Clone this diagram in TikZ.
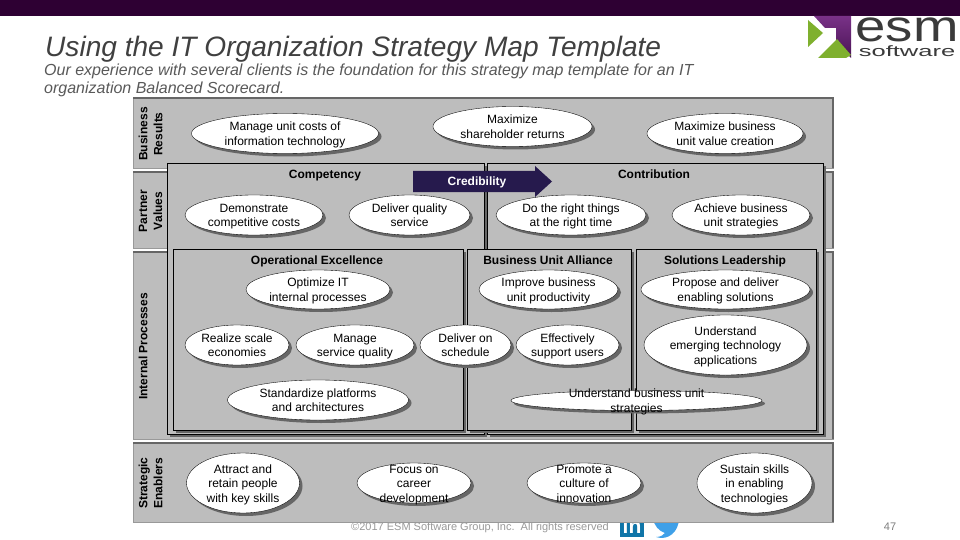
\documentclass[tikz,border=0pt]{standalone}
\usepackage{fontspec}
\setmainfont{Liberation Sans}
\usetikzlibrary{shapes.geometric,shadows,shapes.arrows}
\definecolor{barcol}{HTML}{2E0033}
\definecolor{bandcol}{HTML}{BDBDBD}
\definecolor{bandedge}{HTML}{666666}
\definecolor{bandlite}{HTML}{999999}
\definecolor{arrowcol}{HTML}{261A4D}
\definecolor{titlecol}{HTML}{404040}
\definecolor{subcol}{HTML}{595959}
\definecolor{footcol}{HTML}{999999}
\definecolor{numcol}{HTML}{7F7F7F}
\definecolor{logotext}{HTML}{3A3A3A}
\definecolor{logogreen}{HTML}{7FB02E}
\definecolor{logopurple}{HTML}{6A1B7A}
\definecolor{liblue}{HTML}{0F75A8}
\definecolor{twblue}{HTML}{3FA0E8}
\tikzset{
  x=1pt,y=-1pt,
  goal/.style={ellipse,draw=black,line width=.35pt,fill=white,inner sep=0pt,
    general shadow={fill=bandedge,shadow xshift=3pt,shadow yshift=-3pt}},
  goaltext/.style={font=\fontsize{12}{14.5}\selectfont,align=center,inner sep=0pt,text=black},
  panel/.style={draw=black,line width=.8pt,fill=bandcol,
    general shadow={fill=bandedge,shadow xshift=3pt,shadow yshift=-3pt}},
  band/.style={draw=bandlite,line width=.8pt,fill=bandcol},
  bandtop/.style={draw=bandedge,line width=2pt},
  head/.style={font=\fontsize{12}{14}\bfseries\selectfont,align=center,inner sep=0pt,text=black,text height=9pt,text depth=3pt},
  bandlabel/.style={font=\fontsize{12}{15}\bfseries\selectfont,align=center,inner sep=0pt,rotate=90,text=black},
}
\newcommand{\goalnode}[6]{\node[goal,minimum width=#4pt,minimum height=#5pt,label={[goaltext]center:{\rule{0pt}{12pt}#6\rule[-3pt]{0pt}{3pt}}}] (#1) at (#2,#3) {};}
\begin{document}
\begin{tikzpicture}
\useasboundingbox (0,0) rectangle (960,540);
\fill[white] (0,0) rectangle (960,540);
% footer and icons (partly covered by the bands)
\fill[liblue] (620,516) rectangle (644,537);
\node[font=\fontsize{21}{21}\bfseries\selectfont,text=white,inner sep=0pt] (inlogo) at (632,526) {in};
\fill[twblue] (653,518) -- (679,518) .. controls (679,532) and (668,541) .. (656,537) .. controls (661,537) and (663,535) .. (665,533) .. controls (659,531) and (654,526) .. cycle;
\node[font=\fontsize{11}{13}\selectfont,text=footcol,inner sep=0pt] (footer) at (480,528) {©2017 ESM Software Group, Inc.\ \ All rights reserved};
\node[font=\fontsize{11}{13}\selectfont,text=numcol,inner sep=0pt] (pagenum) at (890,527) {47};
% top bar
\fill[barcol] (0,0) rectangle (960,16);
% title
\node[anchor=west,font=\fontsize{28.1}{30}\itshape\selectfont,text=titlecol,inner sep=0pt] (title) at (45,49) {Using the IT Organization Strategy Map Template};
\node[anchor=north west,align=left,font=\fontsize{16}{18}\itshape\selectfont,text=subcol,inner sep=0pt] (subtitle) at (44,64) {Our experience with several clients is the foundation for this strategy map template for an IT\\organization Balanced Scorecard.};
% logo
\shade[top color=logopurple!90!white,bottom color=logopurple!70!black] (814,16) -- (851,16) -- (851,58) -- (836,42) -- (836,28) -- (825,28) -- cycle;
\fill[logogreen] (808,20) -- (823,33) -- (808,47) -- cycle;
\fill[logogreen] (818,58) -- (837,39) -- (851,55) -- (846,58) -- cycle;
\node[anchor=base,font=\fontsize{44}{44}\selectfont,text=logotext,inner sep=0pt,xscale=1.24] (logoesm) at (907,42) {esm};
\node[anchor=base,font=\fontsize{15}{18}\selectfont,text=logotext,inner sep=0pt,xscale=1.7] (logosw) at (907,56.5) {software};
% bands
\draw[band] (133,98) rectangle (833,168);
\draw[band] (133,172) rectangle (833,248);
\draw[band] (133,252) rectangle (833,439);
\draw[band] (133,443) rectangle (833,522);
\draw[bandtop] (133,98) -- (833,98) -- (833,168);
\draw[bandtop] (133,172) -- (167,172) (826,172) -- (833,172) -- (833,248);
\draw[bandtop] (133,252) -- (167,252) (826,252) -- (833,252) -- (833,439);
\draw[bandtop] (133,443) -- (833,443) -- (833,522);
\node[bandlabel] (lblbiz) at (150.5,134) {Business\\Results};
\node[bandlabel] (lblpartner) at (150.5,211) {Partner\\Values};
\node[bandlabel] (lblint) at (143,346.5) {Internal Processes};
\node[bandlabel] (lblstrat) at (150.5,483) {Strategic\\Enablers};
% panels
\draw[panel] (167,163) rectangle (484,434);
\draw[panel] (487,163) rectangle (823,434);
\draw[panel] (173,249) rectangle (463,430);
\draw[panel] (467,249) rectangle (631,430);
\draw[panel] (636,249) rectangle (816,430);
\node[head] (hcomp) at (325,175.5) {Competency};
\node[head] (hcont) at (654,175.5) {Contribution};
\node[head] (hop) at (317,261.5) {Operational Excellence};
\node[head] (hbua) at (548,261.5) {Business Unit Alliance};
\node[head] (hsl) at (725,261.5) {Solutions Leadership};
% credibility arrow
\fill[arrowcol] (413,171) -- (535,171) -- (535,166) -- (552,181.5) -- (535,197) -- (535,192) -- (413,192) -- cycle;
\node[font=\fontsize{12}{14}\bfseries\selectfont,text=white,inner sep=0pt,text height=9pt,text depth=3pt] (cred) at (477,182.5) {Credibility};
% goals
\goalnode{a1}{285}{133.5}{187}{40}{Manage unit costs of\\information technology}
\goalnode{a2}{512.5}{126.5}{159}{40}{Maximize\\shareholder returns}
\goalnode{a3}{725}{133.5}{156}{40}{Maximize business\\unit value creation}
\goalnode{b1}{254}{215}{138}{40}{Demonstrate\\competitive costs}
\goalnode{b2}{409.5}{215}{121}{40}{Deliver quality\\service}
\goalnode{b3}{571}{215}{150}{40}{Do the right things\\at the right time}
\goalnode{b4}{741}{215}{138}{40}{Achieve business\\unit strategies}
\goalnode{c1}{318}{289.5}{144}{39}{Optimize IT\\internal processes}
\goalnode{c2}{548.5}{289.5}{139}{39}{Improve business\\unit productivity}
\goalnode{c3}{725.5}{289.5}{169}{39}{Propose and deliver\\enabling solutions}
\goalnode{d1}{237}{345}{104}{40}{Realize scale\\economies}
\goalnode{d2}{355}{345}{118}{40}{Manage\\service quality}
\goalnode{d3}{465.5}{345}{91}{40}{Deliver on\\schedule}
\goalnode{d4}{567.5}{345}{103}{40}{Effectively\\support users}
\goalnode{d5}{725.5}{345}{163}{60}{Understand\\emerging technology\\applications}
\goalnode{e1}{318}{400}{181}{40}{Standardize platforms\\and architectures}
\goalnode{e2}{636.5}{400.5}{251}{20}{Understand business unit\\strategies}
\goalnode{f1}{243}{483}{113}{60}{Attract and\\retain people\\with key skills}
\goalnode{f2}{414}{483}{114}{40}{Focus on\\career\\development}
\goalnode{f3}{584}{483}{114}{40}{Promote a\\culture of\\innovation}
\goalnode{f4}{754.5}{483}{115}{60}{Sustain skills\\in enabling\\technologies}
\end{tikzpicture}
\end{document}
